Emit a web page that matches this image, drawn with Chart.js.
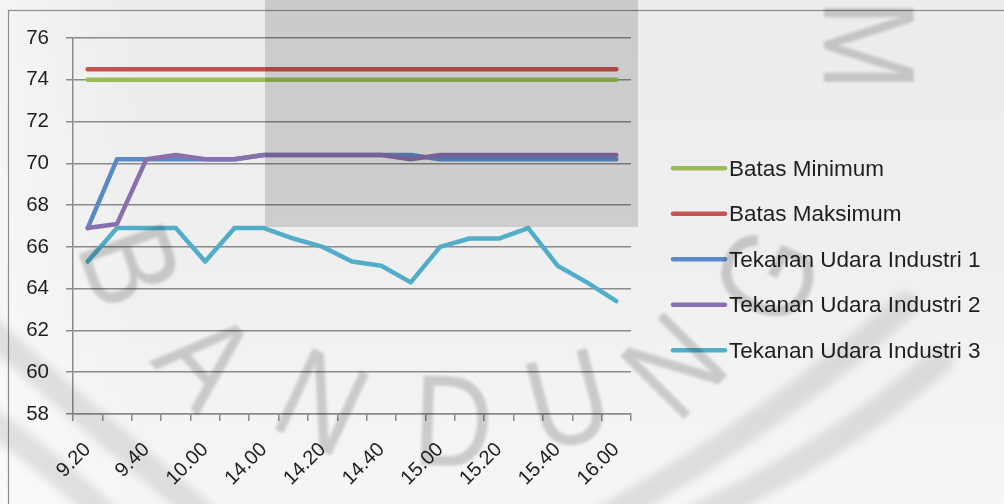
<!DOCTYPE html>
<html>
<head>
<meta charset="utf-8">
<script src="https://cdn.jsdelivr.net/npm/chart.js@4.4.1/dist/chart.umd.min.js"></script>
<style>
  html, body { margin: 0; padding: 0; background: #efefef; }
  #wrap { width: 1004px; height: 504px; }
</style>
</head>
<body>
<div id="wrap"><canvas id="chart" width="1004" height="504"></canvas></div>
<script>
// Jam pengukuran (kategori sumbu X)
const waktu = ['9.20', '9.30', '9.40', '9.50', '10.00', '10.10', '14.00', '14.10', '14.20', '14.30',
               '14.40', '14.50', '15.00', '15.10', '15.20', '15.30', '15.40', '15.50', '16.00'];

// Batas tekanan udara
const batasMinimum  = [74.0, 74.0, 74.0, 74.0, 74.0, 74.0, 74.0, 74.0, 74.0, 74.0,
                       74.0, 74.0, 74.0, 74.0, 74.0, 74.0, 74.0, 74.0, 74.0];
const batasMaksimum = [74.5, 74.5, 74.5, 74.5, 74.5, 74.5, 74.5, 74.5, 74.5, 74.5,
                       74.5, 74.5, 74.5, 74.5, 74.5, 74.5, 74.5, 74.5, 74.5];

// Hasil pengukuran tiap industri
const industri1 = [66.9, 70.2, 70.2, 70.2, 70.2, 70.2, 70.4, 70.4, 70.4, 70.4,
                   70.4, 70.4, 70.2, 70.2, 70.2, 70.2, 70.2, 70.2, 70.2];
const industri2 = [66.9, 67.1, 70.2, 70.4, 70.2, 70.2, 70.4, 70.4, 70.4, 70.4,
                   70.4, 70.2, 70.4, 70.4, 70.4, 70.4, 70.4, 70.4, 70.4];
const industri3 = [65.3, 66.9, 66.9, 66.9, 65.3, 66.9, 66.9, 66.4, 66.0, 65.3,
                   65.1, 64.3, 66.0, 66.4, 66.4, 66.9, 65.1, 64.3, 63.4];

// Sumbu Y
const yMin = 58, yMax = 76, yStep = 2;

const FONT = "'Liberation Sans', Arial, sans-serif";
const TEXT = '#1e1e1e';
const GRID = '#8a8a8a';

function seri(label, data, color, order) {
  return {
    label, data, order,
    borderColor: color, backgroundColor: color,
    borderWidth: 4.5, borderCapStyle: 'round', borderJoinStyle: 'round',
    pointRadius: 0, pointHoverRadius: 0, tension: 0, fill: false
  };
}

// Latar, bingkai, legenda dan watermark
const dekorasi = {
  id: 'dekorasi',
  beforeDraw(chart) {
    const ctx = chart.ctx;
    ctx.save();
    const g = ctx.createLinearGradient(0, 0, 0, chart.height);
    g.addColorStop(0, '#ececec');
    g.addColorStop(0.5, '#efefef');
    g.addColorStop(1, '#f6f6f6');
    ctx.fillStyle = g;
    ctx.fillRect(0, 0, chart.width, chart.height);
    const h = ctx.createLinearGradient(0, 0, 140, 0);
    h.addColorStop(0, 'rgba(255,255,255,0.45)');
    h.addColorStop(1, 'rgba(255,255,255,0)');
    ctx.fillStyle = h;
    ctx.fillRect(0, 0, 140, chart.height);
    ctx.strokeStyle = '#8c8c8c';
    ctx.lineWidth = 1.2;
    ctx.strokeRect(8.5, 10.5, chart.width + 10, chart.height + 10);
    ctx.restore();
  },
  afterDraw(chart) {
    const ctx = chart.ctx;
    // legenda
    ctx.save();
    const x0 = 673, x1 = 725, yTop = 168.3, gap = 45.5;
    ctx.font = '22.5px ' + FONT;
    ctx.textBaseline = 'middle';
    ctx.textAlign = 'left';
    chart.data.datasets.forEach((ds, i) => {
      const y = yTop + i * gap;
      ctx.strokeStyle = ds.borderColor;
      ctx.lineWidth = 4.5;
      ctx.lineCap = 'round';
      ctx.beginPath();
      ctx.moveTo(x0, y);
      ctx.lineTo(x1, y);
      ctx.stroke();
      ctx.fillStyle = TEXT;
      ctx.fillText(ds.label, 729, y + 1);
    });
    ctx.restore();

    // watermark
    ctx.save();
    ctx.globalCompositeOperation = 'multiply';
    ctx.fillStyle = '#dcdcdc';
    ctx.fillRect(265, 0, 373, 227);

    // cincin logo di sudut bawah
    ctx.filter = 'blur(4px)';
    ctx.strokeStyle = '#e6e6e6';
    ctx.lineWidth = 26;
    ctx.lineCap = 'round';
    ctx.beginPath();
    ctx.moveTo(-10, 330);
    ctx.quadraticCurveTo(90, 420, 210, 520);
    ctx.stroke();
    ctx.beginPath();
    ctx.moveTo(-10, 420);
    ctx.quadraticCurveTo(60, 470, 110, 520);
    ctx.stroke();
    ctx.beginPath();
    ctx.moveTo(600, 520);
    ctx.quadraticCurveTo(780, 420, 905, 305);
    ctx.stroke();
    ctx.beginPath();
    ctx.moveTo(690, 520);
    ctx.quadraticCurveTo(840, 450, 940, 360);
    ctx.stroke();

    ctx.filter = 'blur(1.5px)';
    ctx.fillStyle = '#d4d4d4';
    ctx.font = '130px ' + FONT;
    ctx.textAlign = 'center';
    ctx.textBaseline = 'middle';
    const huruf = [['B', 122, 268, 70], ['A', 200, 365, 48], ['N', 318, 410, 25],
                   ['D', 453, 430, 2], ['U', 570, 408, -15], ['N', 680, 372, -45],
                   ['G', 775, 280, -65], ['M', 860, 45, 90]];
    huruf.forEach(([t, x, y, r]) => {
      ctx.save();
      ctx.translate(x, y);
      ctx.rotate(r * Math.PI / 180);
      ctx.scale(0.85, 1);
      ctx.fillText(t, 0, 0);
      ctx.restore();
    });
    ctx.restore();
  }
};

new Chart(document.getElementById('chart'), {
  type: 'line',
  data: {
    labels: waktu,
    datasets: [
      seri('Batas Minimum', batasMinimum, '#9bbb59', 5),
      seri('Batas Maksimum', batasMaksimum, '#c4524f', 4),
      seri('Tekanan Udara Industri 1', industri1, '#5a8ac5', 3),
      seri('Tekanan Udara Industri 2', industri2, '#8a6fae', 2),
      seri('Tekanan Udara Industri 3', industri3, '#52aec8', 1)
    ]
  },
  options: {
    responsive: false,
    devicePixelRatio: 1,
    animation: false,
    layout: { padding: { left: 0, right: 373, top: 38, bottom: 0 } },
    plugins: { legend: { display: false }, tooltip: { enabled: false } },
    scales: {
      x: {
        type: 'category',
        offset: true,
        grid: { display: true, offset: true, drawOnChartArea: false, drawTicks: true,
                tickLength: 7, color: GRID, lineWidth: 1.5 },
        border: { display: true, color: GRID, width: 1.5 },
        ticks: {
          autoSkip: false, minRotation: 45, maxRotation: 45, padding: 17,
          color: TEXT, font: { family: FONT, size: 20 },
          callback: (v, i) => (i % 2 === 0 ? waktu[i] : '')
        },
        afterFit: s => { s.height = 90; }
      },
      y: {
        min: yMin, max: yMax,
        grid: { color: GRID, lineWidth: 1.5, tickLength: 7, drawTicks: true },
        border: { display: true, color: GRID, width: 1.5 },
        ticks: { stepSize: yStep, padding: 17, color: TEXT, font: { family: FONT, size: 20.5 } },
        afterFit: s => { s.width = 73; }
      }
    }
  },
  plugins: [dekorasi]
});
</script>
</body>
</html>
